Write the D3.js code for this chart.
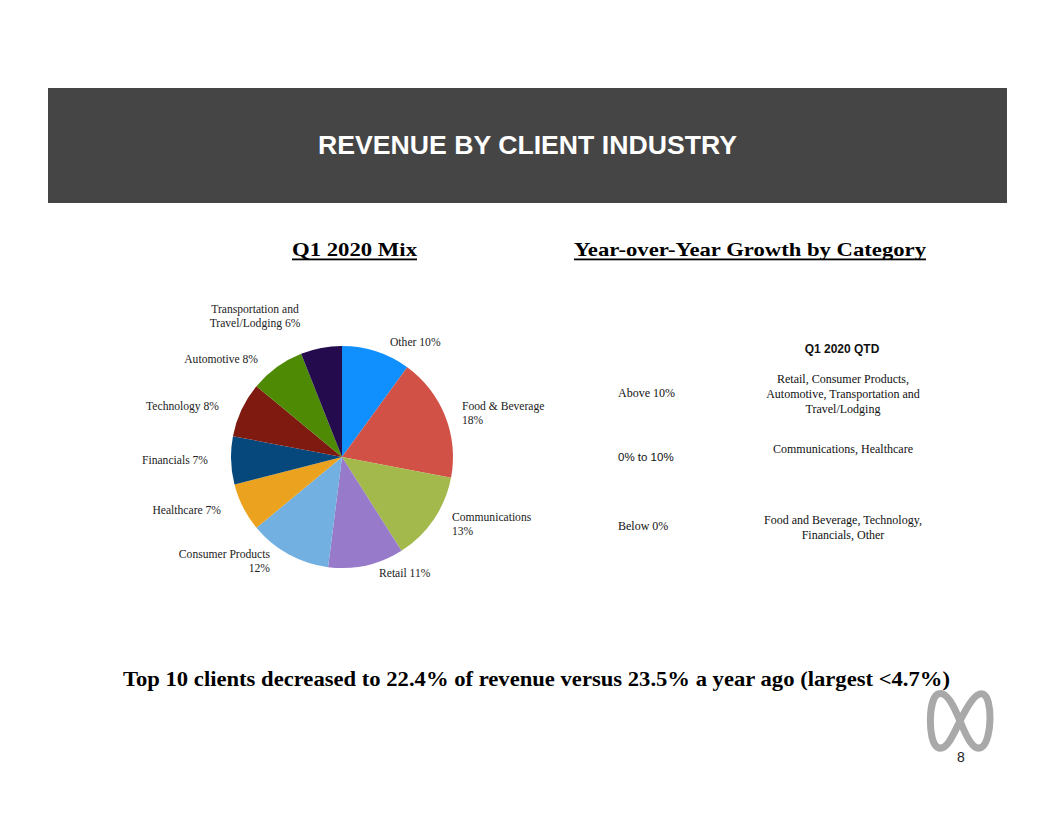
<!DOCTYPE html>
<html>
<head>
<meta charset="utf-8">
<script src="https://cdn.jsdelivr.net/npm/d3@7"></script>
<style>
  body { margin: 0; background: #fff; }
  svg { display: block; }
</style>
</head>
<body>
<svg id="chart" width="1056" height="816"></svg>
<script>
// pie data, clockwise from 12 o'clock
var industries = ['Other', 'Food & Beverage', 'Communications', 'Retail', 'Consumer Products',
  'Healthcare', 'Financials', 'Technology', 'Automotive', 'Transportation and Travel/Lodging'];
var shares = [10, 18, 13, 11, 12, 7, 7, 8, 8, 6];
var sliceColors = ['#1090ff', '#d25146', '#a4b94c', '#977ac9', '#71b0e0',
  '#eba21e', '#06487b', '#7e1a10', '#4e8a04', '#230b4d'];

// label text lines, same order as above
var labelLines = [
  ['Other 10%'],
  ['Food & Beverage', '18%'],
  ['Communications', '13%'],
  ['Retail 11%'],
  ['Consumer Products', '12%'],
  ['Healthcare 7%'],
  ['Financials 7%'],
  ['Technology 8%'],
  ['Automotive 8%'],
  ['Transportation and', 'Travel/Lodging 6%']
];

// growth table
var growthBands = ['Above 10%', '0% to 10%', 'Below 0%'];
var growthMembers = [
  ['Retail, Consumer Products,', 'Automotive, Transportation and', 'Travel/Lodging'],
  ['Communications, Healthcare'],
  ['Food and Beverage, Technology,', 'Financials, Other']
];

var svg = d3.select('#chart');
var serif = '"Liberation Serif", "Times New Roman", serif';
var sans = '"Liberation Sans", Arial, sans-serif';

// header bar
svg.append('rect')
  .attr('x', 48).attr('y', 88)
  .attr('width', 959).attr('height', 115)
  .attr('fill', '#444544');
svg.append('text')
  .attr('x', 318).attr('y', 154)
  .attr('textLength', 419).attr('lengthAdjust', 'spacingAndGlyphs')
  .style('font-family', sans).style('font-weight', 'bold').style('font-size', '25px')
  .attr('fill', '#fff')
  .text('REVENUE BY CLIENT INDUSTRY');

// section titles (underlined)
function heading(x, w, str) {
  svg.append('text')
    .attr('x', x).attr('y', 256)
    .attr('textLength', w).attr('lengthAdjust', 'spacingAndGlyphs')
    .style('font-family', serif).style('font-weight', 'bold').style('font-size', '19px')
    .attr('fill', '#000')
    .text(str);
  svg.append('rect')
    .attr('x', x).attr('y', 258.5)
    .attr('width', w).attr('height', 1.8)
    .attr('fill', '#000');
}
heading(292, 125, 'Q1 2020 Mix');
heading(574, 352, 'Year-over-Year Growth by Category');

// pie
var cx = 342, cy = 457, radius = 111;
var pie = d3.pie().sort(null).value(function (d) { return d; });
var arc = d3.arc().innerRadius(0).outerRadius(radius);
var arcs = pie(shares);

var g = svg.append('g').attr('transform', 'translate(' + cx + ',' + cy + ')');
g.selectAll('path.slice')
  .data(arcs)
  .enter().append('path')
  .attr('class', 'slice')
  .attr('d', arc)
  .attr('fill', function (d, i) { return sliceColors[i]; });

// label placement relative to pie centre (Excel "best fit" style)
var labelLayout = [
  {dx: 48, dy: -111, anchor: 'start'},
  {dx: 120, dy: -47, anchor: 'start'},
  {dx: 110, dy: 64, anchor: 'start'},
  {dx: 37, dy: 120, anchor: 'start'},
  {dx: -72, dy: 101, anchor: 'end'},
  {dx: -121, dy: 57, anchor: 'end'},
  {dx: -134, dy: 7, anchor: 'end'},
  {dx: -123, dy: -47, anchor: 'end'},
  {dx: -84, dy: -94, anchor: 'end'},
  {dx: -87, dy: -144, anchor: 'middle'}
];

var labels = g.selectAll('text.lbl')
  .data(arcs)
  .enter().append('text')
  .attr('class', 'lbl')
  .attr('x', function (d, i) { return labelLayout[i].dx; })
  .attr('y', function (d, i) { return labelLayout[i].dy; })
  .attr('text-anchor', function (d, i) { return labelLayout[i].anchor; })
  .style('font-family', serif).style('font-size', '11.6px')
  .attr('fill', '#222');
labels.each(function (d, i) {
  var t = d3.select(this);
  labelLines[i].forEach(function (line, k) {
    t.append('tspan')
      .attr('x', labelLayout[i].dx)
      .attr('dy', k === 0 ? 0 : 14)
      .text(line);
  });
});

// growth table
svg.append('text')
  .attr('x', 842).attr('y', 353)
  .attr('text-anchor', 'middle')
  .style('font-family', sans).style('font-weight', 'bold').style('font-size', '12px')
  .attr('fill', '#111')
  .text('Q1 2020 QTD');

var bandY = [397, 461, 530];
var memberY = [383, 453, 524];
growthBands.forEach(function (b, i) {
  svg.append('text')
    .attr('x', 618).attr('y', bandY[i])
    .style('font-family', i === 1 ? sans : serif)
    .style('font-size', i === 1 ? '11.5px' : '12px')
    .attr('fill', '#111')
    .text(b);
  var t = svg.append('text')
    .attr('text-anchor', 'middle')
    .style('font-family', serif).style('font-size', '12px')
    .attr('fill', '#111');
  growthMembers[i].forEach(function (line, k) {
    t.append('tspan')
      .attr('x', 843)
      .attr('y', memberY[i] + k * 15)
      .text(line);
  });
});

// footer note
svg.append('text')
  .attr('x', 123).attr('y', 686)
  .attr('textLength', 827).attr('lengthAdjust', 'spacingAndGlyphs')
  .style('font-family', serif).style('font-weight', 'bold').style('font-size', '21px')
  .attr('fill', '#000')
  .text('Top 10 clients decreased to 22.4% of revenue versus 23.5% a year ago (largest <4.7%)');

// logo
svg.append('path')
  .attr('d', 'M960,721 C968,705 976,692 983,694 C993,698 992,740 982,747 C973,753 965,733 960,721 ' +
             'C955,709 947,690 938,694 C928,699 928,741 937,747 C946,753 953,735 960,721 Z')
  .attr('fill', 'none')
  .attr('stroke', '#a9a9a9')
  .attr('stroke-width', 7);

svg.append('text')
  .attr('x', 961).attr('y', 762)
  .attr('text-anchor', 'middle')
  .style('font-family', sans).style('font-size', '14px')
  .attr('fill', '#222')
  .text('8');
</script>
</body>
</html>
